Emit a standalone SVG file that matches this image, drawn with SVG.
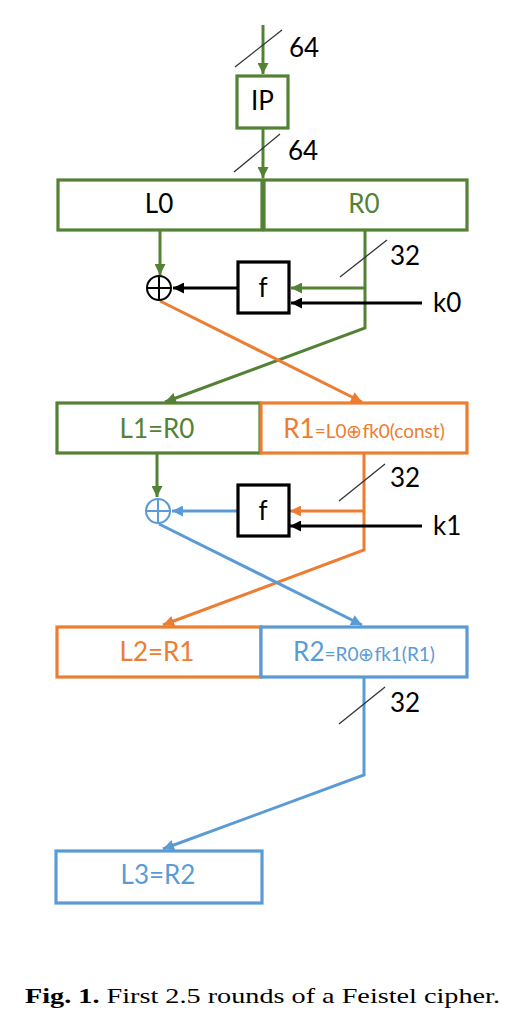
<svg xmlns="http://www.w3.org/2000/svg" width="526" height="1026" viewBox="0 0 526 1026">
<defs>
<style>
.g{stroke:#548235}.o{stroke:#ED7D31}.b{stroke:#5B9BD5}.k{stroke:#000}
.ln{fill:none;stroke-width:3}
.box{fill:#fff;stroke-width:3.2}
.sl{stroke:#333;stroke-width:1.3;fill:none}
.t{font-family:Lato,"Liberation Sans",sans-serif;font-size:26px}
.tc{text-anchor:middle}
.tg{fill:#548235}.to{fill:#ED7D31}.tb{fill:#5B9BD5}.tk{fill:#000}
.sm{font-size:19px}
.cap{font-family:"Liberation Serif",serif;font-size:22px;fill:#000}
</style>
<marker id="ag" viewBox="0 0 10 10" refX="10" refY="5" markerWidth="11" markerHeight="11" markerUnits="userSpaceOnUse" orient="auto"><path d="M0,0L10,5L0,10z" fill="#548235"/></marker>
<marker id="ao" viewBox="0 0 10 10" refX="10" refY="5" markerWidth="11" markerHeight="11" markerUnits="userSpaceOnUse" orient="auto"><path d="M0,0L10,5L0,10z" fill="#ED7D31"/></marker>
<marker id="ab" viewBox="0 0 10 10" refX="10" refY="5" markerWidth="11" markerHeight="11" markerUnits="userSpaceOnUse" orient="auto"><path d="M0,0L10,5L0,10z" fill="#5B9BD5"/></marker>
<marker id="ak" viewBox="0 0 10 10" refX="10" refY="5" markerWidth="11" markerHeight="11" markerUnits="userSpaceOnUse" orient="auto"><path d="M0,0L10,5L0,10z" fill="#000"/></marker>
</defs>
<rect width="526" height="1026" fill="#fff"/>

<g id="connectors">
<path class="ln g" d="M263,25V74" marker-end="url(#ag)"/>
<path class="ln g" d="M263,128V178" marker-end="url(#ag)"/>
<path class="ln g" d="M160,231V275" marker-end="url(#ag)"/>
<path class="ln g" d="M365,231V328L165,402" marker-end="url(#ag)"/>
<path class="ln g" d="M365,288H291" marker-end="url(#ag)"/>
<path class="ln k" d="M422,303H291" marker-end="url(#ak)"/>
<path class="ln k" d="M237,288H173" marker-end="url(#ak)"/>
<path class="ln o" d="M160,301L362,402" marker-end="url(#ao)"/>
<path class="ln g" d="M157,454V497" marker-end="url(#ag)"/>
<path class="ln o" d="M364,454V550L163,625" marker-end="url(#ao)"/>
<path class="ln o" d="M364,511H290" marker-end="url(#ao)"/>
<path class="ln k" d="M422,526H290" marker-end="url(#ak)"/>
<path class="ln b" d="M237,511H172" marker-end="url(#ab)"/>
<path class="ln b" d="M159,524L362,625" marker-end="url(#ab)"/>
<path class="ln b" d="M364,678V775L163,849" marker-end="url(#ab)"/>
</g>

<g id="buswidths">
<path class="sl" d="M235,67L282,30"/>
<text class="t tk" x="289" y="57">64</text>
<path class="sl" d="M234,172L280,134"/>
<text class="t tk" x="288" y="160">64</text>
<path class="sl" d="M340,277L387,240"/>
<text class="t tk" x="390" y="265">32</text>
<path class="sl" d="M339,501L385,464"/>
<text class="t tk" x="390" y="487">32</text>
<path class="sl" d="M339,724L385,687"/>
<text class="t tk" x="390" y="712">32</text>
</g>

<g id="IP">
<rect class="box g" x="237" y="76" width="51" height="52"/>
<text class="t tc tk" x="262.5" y="110">IP</text>
</g>

<g id="L0">
<rect class="box g" x="58" y="180" width="204" height="50"/>
<text class="t tc tk" x="159" y="213">L0</text>
</g>
<g id="R0">
<rect class="box g" x="264" y="180" width="203" height="50"/>
<text class="t tc tg" x="364" y="213">R0</text>
</g>

<g id="xor0">
<circle cx="159" cy="288" r="12" fill="#fff" stroke="#000" stroke-width="2"/>
<path d="M147,288H171M159,276V300" stroke="#000" stroke-width="2"/>
</g>
<g id="f0">
<rect class="box k" x="238" y="262" width="51" height="51"/>
<text class="t tc tk" x="263" y="297">f</text>
</g>
<g id="k0">
<text class="t tk" x="433" y="312">k0</text>
</g>

<g id="L1">
<rect class="box g" x="57" y="403" width="203" height="50"/>
<text class="t tc tg" x="157" y="438">L1=R0</text>
</g>
<g id="R1">
<rect class="box o" x="261" y="403" width="206" height="50"/>
<text class="t tc to" x="364" y="438">R1<tspan class="sm">=L0⊕fk0(const)</tspan></text>
</g>

<g id="xor1">
<circle cx="158" cy="511" r="12" fill="#fff" stroke="#5B9BD5" stroke-width="2"/>
<path d="M146,511H170M158,499V523" stroke="#5B9BD5" stroke-width="2"/>
</g>
<g id="f1">
<rect class="box k" x="238" y="485" width="51" height="51"/>
<text class="t tc tk" x="263" y="520">f</text>
</g>
<g id="k1">
<text class="t tk" x="433" y="535">k1</text>
</g>

<g id="L2">
<rect class="box o" x="57" y="627" width="204" height="50"/>
<text class="t tc to" x="157" y="661">L2=R1</text>
</g>
<g id="R2">
<rect class="box b" x="261" y="627" width="206" height="50"/>
<text class="t tc tb" x="364" y="661">R2<tspan class="sm">=R0⊕fk1(R1)</tspan></text>
</g>

<g id="L3">
<rect class="box b" x="56" y="851" width="206" height="52"/>
<text class="t tc tb" x="158" y="884">L3=R2</text>
</g>

<text class="cap" x="25" y="1003" textLength="475" lengthAdjust="spacingAndGlyphs"><tspan font-weight="bold">Fig. 1.</tspan> First 2.5 rounds of a Feistel cipher.</text>
</svg>
